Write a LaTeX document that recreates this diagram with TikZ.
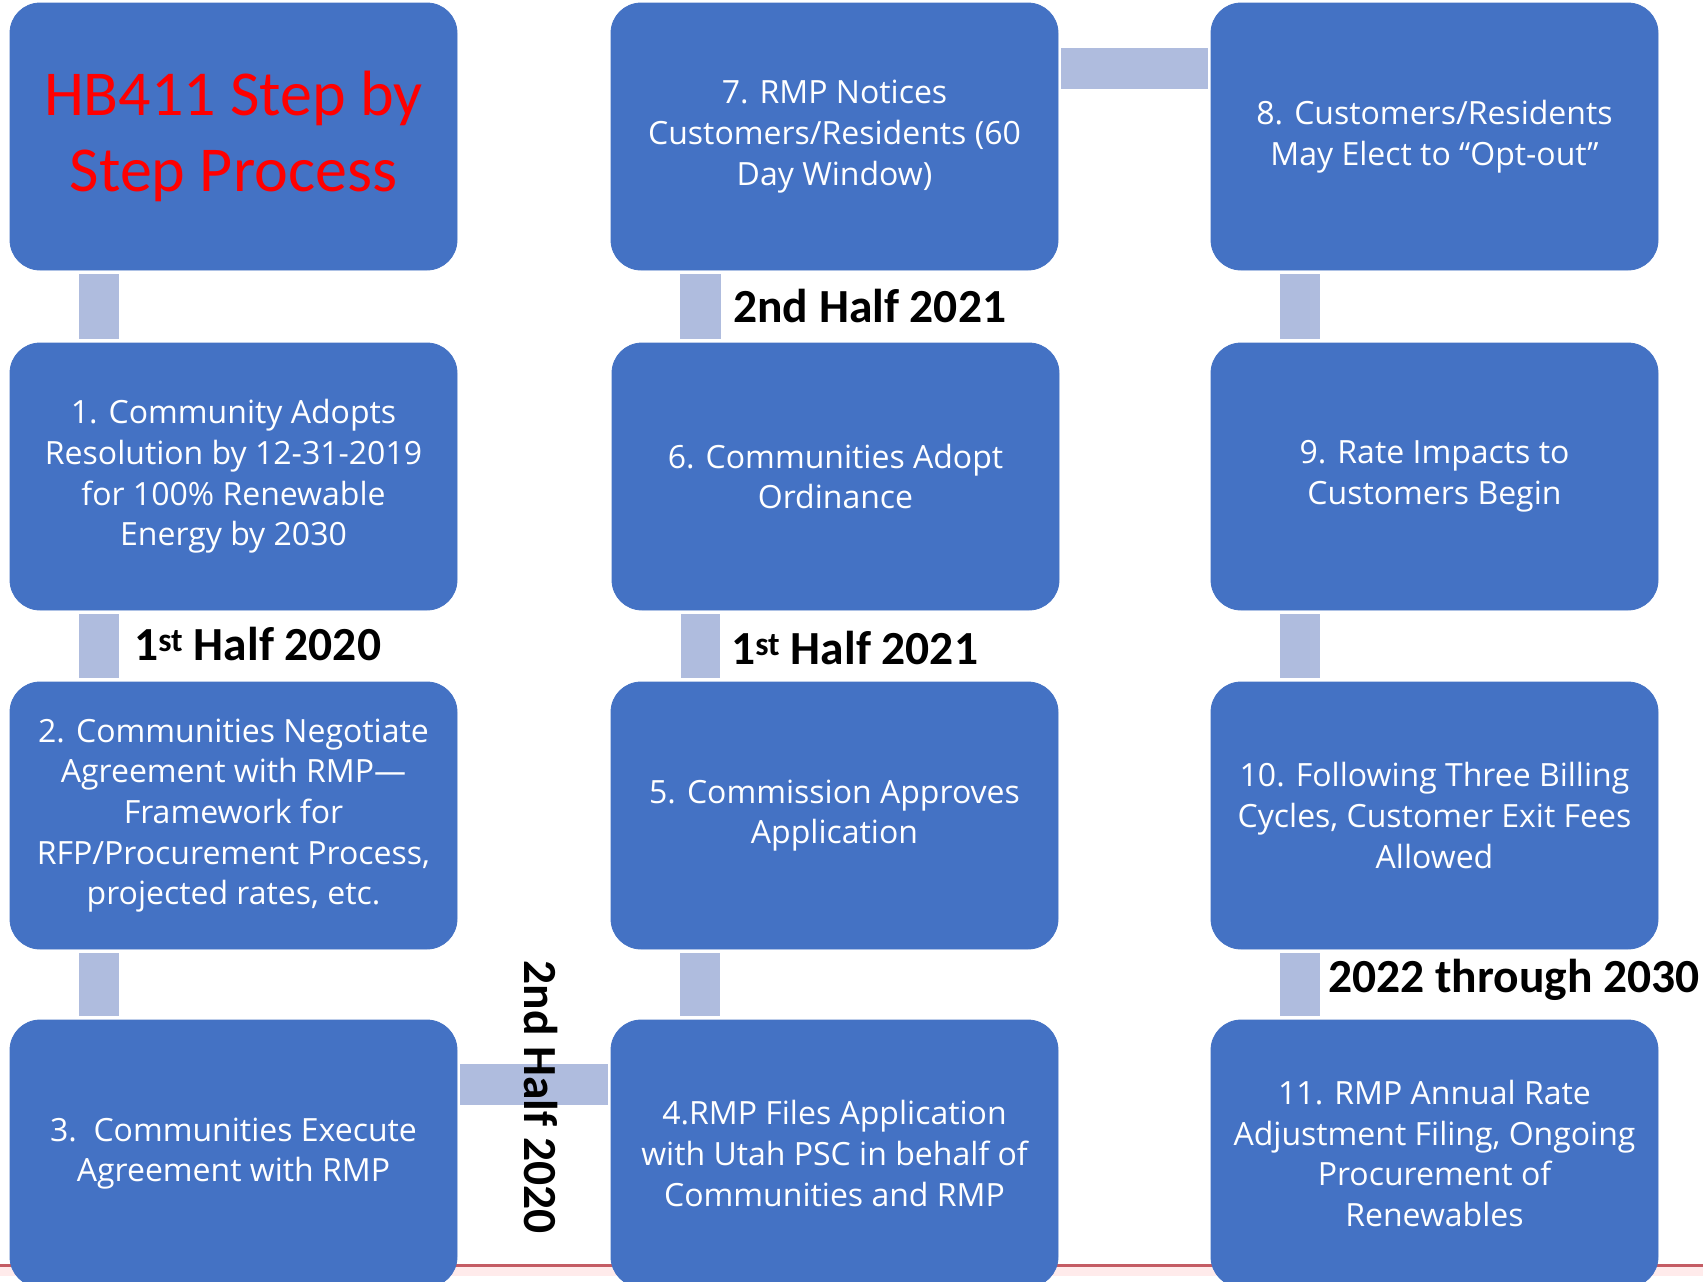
\documentclass[tikz,border=0pt]{standalone}
\usepackage{fontspec}
\setmainfont{Carlito}
\newfontfamily\boxfont{Open Sans}
\definecolor{boxblue}{RGB}{68,114,196}
\definecolor{connblue}{RGB}{175,188,222}
\definecolor{lineRed}{RGB}{196,92,100}
\begin{document}
\begin{tikzpicture}[x=1pt,y=-1pt,
  stepbox/.style={fill=boxblue,draw=boxblue,line width=0.8pt,rounded corners=30pt,
    minimum width=447pt,minimum height=267pt,inner sep=0pt,text=white,align=center,
    font=\boxfont\fontsize{32}{40.7}\selectfont},
  conn/.style={fill=connblue},
  period/.style={font=\fontsize{47.5}{55}\selectfont\bfseries,text=black,inner sep=0pt}]
\useasboundingbox (0,0) rectangle (1703,1282);
\fill[white] (0,0) rectangle (1703,1282);
% red baseline
\fill[red!8] (0,1266) rectangle (1703,1276);
\draw[lineRed,line width=3pt] (0,1265) -- (1703,1265);
% boxes
\node[stepbox,text=red,font=\fontsize{64}{76}\selectfont] (b0) at (233.5,136.5) {HB411 Step by\\Step Process};
\node[stepbox] (b1) at (233.5,476.5) {1. Community Adopts\\Resolution by 12-31-2019\\for 100\% Renewable\\Energy by 2030};
\node[stepbox] (b2) at (233.5,815.5) {2. Communities Negotiate\\Agreement with RMP—\\Framework for\\RFP/Procurement Process,\\projected rates, etc.};
\node[stepbox] (b3) at (233.5,1153.5) {3.\ \ Communities Execute\\Agreement with RMP};
\node[stepbox] (b4) at (834.5,1153.5) {4.RMP Files Application\\with Utah PSC in behalf of\\Communities and RMP};
\node[stepbox] (b5) at (834.5,815.5) {5. Commission Approves\\Application};
\node[stepbox] (b6) at (835.5,476.5) {6. Communities Adopt\\Ordinance};
\node[stepbox] (b7) at (834.5,136.5) {7. RMP Notices\\Customers/Residents (60\\Day Window)};
\node[stepbox] (b8) at (1434.5,136.5) {8. Customers/Residents\\May Elect to “Opt-out”};
\node[stepbox] (b9) at (1434.5,476.5) {9. Rate Impacts to\\Customers Begin};
\node[stepbox] (b10) at (1434.5,815.5) {10. Following Three Billing\\Cycles, Customer Exit Fees\\Allowed};
\node[stepbox] (b11) at (1434.5,1153.5) {11. RMP Annual Rate\\Adjustment Filing, Ongoing\\Procurement of\\Renewables};
% vertical connectors
\foreach \a/\b in {b0/b1,b1/b2,b2/b3,b7/b6,b6/b5,b5/b4,b8/b9,b9/b10,b10/b11}{
  \fill[conn] ([xshift=69pt,yshift=-4pt]\a.south west) rectangle ([xshift=109pt,yshift=4pt]\b.north west);
}
% horizontal connectors
\fill[conn] ([xshift=3pt,yshift=-45pt]b7.north east) rectangle ([xshift=-3pt,yshift=-86pt]b8.north west);
\fill[conn] ([xshift=3pt,yshift=-44pt]b3.north east) rectangle ([xshift=-3pt,yshift=-85pt]b4.north west);
% period labels
\node[period,anchor=west] (p1) at (134,644) {1\textsuperscript{st} Half 2020};
\node[period,anchor=west] (p2) at (733,306) {2nd Half 2021};
\node[period,anchor=west] (p3) at (731,648) {1\textsuperscript{st} Half 2021};
\node[period,anchor=west] (p4) at (1328,980) {2022 through 2030};
\node[period,rotate=-90] (p5) at (541,1097) {2nd Half 2020};
\end{tikzpicture}
\end{document}
